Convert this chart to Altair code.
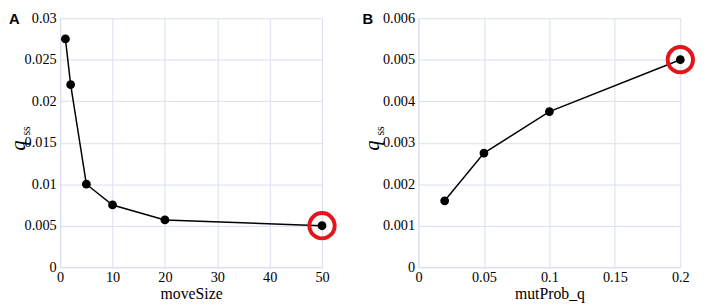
import altair as alt
import pandas as pd

# Panel A data
move_size = [1, 2, 5, 10, 20, 50]
q_ss_a = [0.0275, 0.022, 0.010, 0.0075, 0.0057, 0.0050]
# Panel B data
mut_prob = [0.02, 0.05, 0.10, 0.20]
q_ss_b = [0.0016, 0.00275, 0.00375, 0.0050]

a_x_ticks = [0, 10, 20, 30, 40, 50]
a_y_ticks = [0, 0.005, 0.01, 0.015, 0.02, 0.025, 0.03]
b_x_ticks = [0, 0.05, 0.1, 0.15, 0.2]
b_y_ticks = [0, 0.001, 0.002, 0.003, 0.004, 0.005, 0.006]

GRID = "#d8def1"
FONT = "Liberation Serif, Times New Roman, Tinos, DejaVu Serif, serif"


def panel(xs, ys, xt, yt, xtitle, label, w, h, title_x, label_x):
    df = pd.DataFrame({"x": xs, "y": ys})
    common = dict(
        ticks=False, grid=True, gridColor=GRID, gridWidth=1,
        domainColor=GRID, domainWidth=1,
        labelFont=FONT, labelFontSize=14.5, labelColor="black",
        labelFlush=False, labelOverlap=False,
        titleFont=FONT, titleFontSize=16, titleFontWeight="normal",
        titleColor="black",
    )
    xaxis = alt.Axis(values=xt, format="~r", title=xtitle, labelPadding=3,
                     titlePadding=2, **common)
    yaxis = alt.Axis(values=yt, format="~r", title=None, labelPadding=4,
                     **common)
    xscale = alt.Scale(domain=[xt[0], xt[-1]], nice=False, zero=False)
    yscale = alt.Scale(domain=[yt[0], yt[-1]], nice=False, zero=False)
    base = alt.Chart(df)
    line = base.mark_line(color="black", strokeWidth=1.5).encode(
        x=alt.X("x:Q", scale=xscale, axis=xaxis),
        y=alt.Y("y:Q", scale=yscale, axis=yaxis),
    )
    pts = base.mark_point(filled=True, color="black", size=80, opacity=1).encode(
        x="x:Q", y="y:Q")
    hl = alt.Chart(df.tail(1)).mark_point(
        filled=False, color="#e3151b", size=660, strokeWidth=4, opacity=1
    ).encode(x="x:Q", y="y:Q")
    one = pd.DataFrame({"d": [0]})
    q = alt.Chart(one).mark_text(
        text="q", font=FONT, fontSize=21, fontStyle="italic", angle=270,
        align="center", baseline="middle", color="black"
    ).encode(x=alt.value(title_x), y=alt.value(h / 2 + 3))
    ss = alt.Chart(one).mark_text(
        text="ss", font=FONT, fontSize=12, angle=270,
        align="center", baseline="middle", color="black"
    ).encode(x=alt.value(title_x + 7), y=alt.value(h / 2 - 12))
    lab = alt.Chart(one).mark_text(
        text=label, font="Liberation Sans, Arial, sans-serif", fontSize=15,
        fontWeight="bold", align="left", baseline="top", color="black"
    ).encode(x=alt.value(label_x), y=alt.value(-6))
    return alt.layer(line, pts, hl, q, ss, lab).properties(width=w, height=h)


pa = panel(move_size, q_ss_a, a_x_ticks, a_y_ticks, "moveSize", "A",
           266, 253, -42, -52)
pb = panel(mut_prob, q_ss_b, b_x_ticks, b_y_ticks, "mutProb_q", "B",
           266, 253, -46, -57)

chart = alt.hconcat(pa, pb, spacing=20).properties(
    padding={"left": 0, "top": 0, "right": 0, "bottom": 0}
).configure_view(stroke=None)

chart.save("out.html", embed_options={"renderer": "svg", "actions": False})
